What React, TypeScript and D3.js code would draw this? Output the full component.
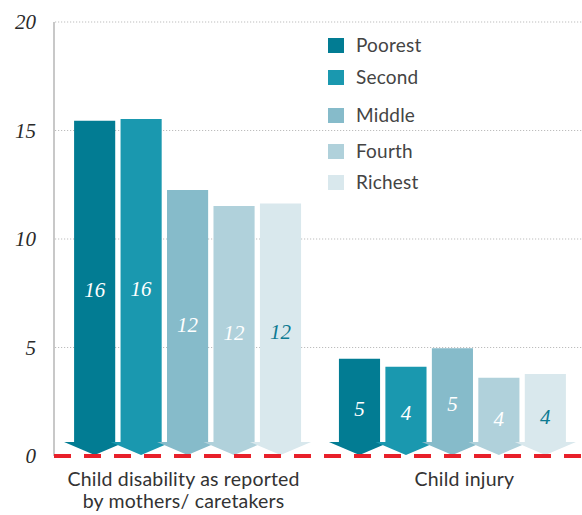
import React from "react";
import * as d3 from "d3";

const categories = ["Child disability as reported\nby mothers/ caretakers", "Child injury"];
const series = ["Poorest", "Second", "Middle", "Fourth", "Richest"];
const disabilityValues = [15.45, 15.53, 12.26, 11.52, 11.64];
const injuryValues = [4.48, 4.11, 4.96, 3.61, 3.78];
const disabilityLabels = ["16", "16", "12", "12", "12"];
const injuryLabels = ["5", "4", "5", "4", "4"];
const yTicks = [0, 5, 10, 15, 20];

const colors = ["#027c93", "#1a98af", "#86bbca", "#b0d1db", "#d9e8ed"];
const labelColors = ["#ffffff", "#ffffff", "#ffffff", "#ffffff", "#0d7a92"];
const legendTops = [38, 70, 108, 144, 175];
const catLabelOffsets = [-4, 12];

const W = 582;
const H = 515;

export default function App() {
  const y = d3.scaleLinear().domain([0, 20]).range([456, 22]);
  const x0 = d3.scaleBand<string>().domain(categories).range([59, 581]).paddingInner(0.143).paddingOuter(0.057);
  const x1 = d3.scaleBand<string>().domain(series).range([0, x0.bandwidth()]).paddingInner(0.115).paddingOuter(0);
  const values = [disabilityValues, injuryValues];
  const labels = [disabilityLabels, injuryLabels];
  const y0 = y(0);
  const bodyBottom = y0 - 14;
  const tipY = y0 - 1;
  const bw = x1.bandwidth();

  return (
    <svg width={W} height={H} style={{ position: "absolute", left: 0, top: 0, background: "#fff" }}>
      {yTicks.filter((t) => t > 0).map((t) => (
        <line key={t} x1={55} x2={W} y1={y(t)} y2={y(t)} stroke="#bdbdbd" strokeWidth={1} strokeDasharray="1.2,1.8" />
      ))}
      <line x1={54} x2={54} y1={y(20)} y2={y0} stroke="#c8c8c8" strokeWidth={2} />
      {yTicks.map((t) => (
        <text key={t} x={36} y={y(t)} dy="0.35em" textAnchor="end" fontFamily="'Liberation Serif', serif" fontStyle="italic" fontSize={21} fill="#2a2a2a">
          {t}
        </text>
      ))}
      {categories.map((c, ci) => (
        <g key={c} transform={`translate(${x0(c)},0)`}>
          {series.map((s, si) => {
            const v = values[ci][si];
            const bx = x1(s)!;
            const top = y(v);
            const cx = bx + bw / 2;
            const hw = bw / 2 + 10;
            const path = `M${bx},${top}H${bx + bw}V${bodyBottom}H${cx + hw}L${cx},${tipY}L${cx - hw},${bodyBottom}H${bx}Z`;
            return <path key={s} d={path} fill={colors[si]} />;
          })}
          {series.map((s, si) => {
            const v = values[ci][si];
            const bx = x1(s)!;
            const top = y(v);
            return (
              <text key={s} x={bx + bw / 2} y={(top + tipY) / 2 + 2} dy="0.35em" textAnchor="middle" fontFamily="'Liberation Serif', serif" fontStyle="italic" fontSize={21} fill={labelColors[si]}>
                {labels[ci][si]}
              </text>
            );
          })}
          {c.split("\n").map((line, li) => (
            <text key={li} x={x0.bandwidth() / 2 + catLabelOffsets[ci]} y={486 + li * 22} textAnchor="middle" fontFamily="Lato, sans-serif" fontSize={19.5} letterSpacing={0.2} fill="#333">
              {line}
            </text>
          ))}
        </g>
      ))}
      <line x1={54} x2={W} y1={y0} y2={y0} stroke="#e8202a" strokeWidth={4} strokeDasharray="17,13" />
      {series.map((s, i) => (
        <g key={s} transform={`translate(328,${legendTops[i]})`}>
          <rect width={16} height={15} fill={colors[i]} />
          <text x={28} y={7.5} dy="0.35em" fontFamily="Lato, sans-serif" fontSize={19} letterSpacing={0.2} fill="#444">
            {s}
          </text>
        </g>
      ))}
    </svg>
  );
}
